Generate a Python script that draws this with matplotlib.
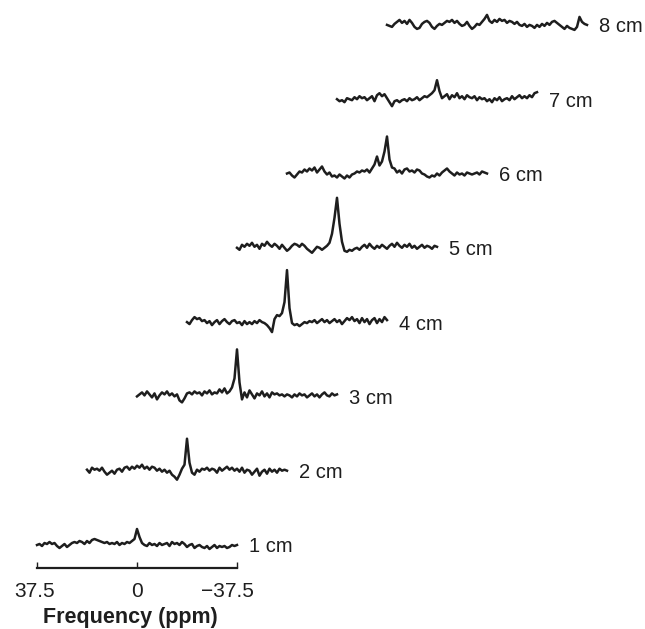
import matplotlib
matplotlib.use("Agg")
import matplotlib.pyplot as plt
import numpy as np
from matplotlib.transforms import ScaledTranslation

plt.rcParams['font.family'] = ['Liberation Sans', 'DejaVu Sans']

depth_labels = ['1 cm', '2 cm', '3 cm', '4 cm', '5 cm', '6 cm', '7 cm', '8 cm']
tick_ppm = [37.5, 0, -37.5]
tick_labels = ['37.5', '0', '\u221237.5']

# sampling grid of every spectrum (ppm, 37.5 -> -37.5)
ppm = np.linspace(37.5, -37.5, 81)

# signal above baseline (arbitrary units)
sig_1cm = [0, 1, -1, 2, 1, 3, 1, 2, -1, -3, -1, 1, -2, 0, 2, 3, 2, 4, 3, 1, 4, 2, 5, 6, 5,
           4, 3, 2, 3, 1, 2, 1, 3, 0, 2, 1, 3, 2, 4, 6, 16, 8, 2, 0, -1, 2, 0, 1, -1, 2,
           0, 1, 2, -1, 3, 1, 2, 0, 3, 1, -2, 0, 1, -3, -1, 0, -2, -3, -1, -4, -2, 0, -3,
           -1, -2, -1, -3, -2, 0, -1, 0]
sig_2cm = [1, -2, 3, 1, 2, 0, 3, -1, -4, -2, 0, -3, 1, 2, -1, 3, 4, 1, 4, 2, 5, 3, 6, 2,
           4, 1, 4, 3, 0, 2, -1, 1, -2, 0, -4, -6, -9, -4, 2, 6, 32, 8, -2, -4, 1, -1, 2,
           1, 3, 0, 2, 1, -2, 3, 0, 2, 4, 1, 3, 0, 2, -1, 3, -2, 1, 0, -4, -1, 2, -5, -1,
           1, -3, 2, -1, 1, -2, 2, 0, 1, 0]
sig_3cm = [0, 2, 4, 1, 5, 2, -1, 3, -3, 1, 4, 2, 5, 1, 3, 0, 2, -4, -6, -2, 3, 4, 2, 5,
           3, 4, 1, 5, 3, 6, 2, 4, 3, 7, 4, 8, 3, 5, 9, 18, 47, 14, -3, 4, -1, 6, 2, -2,
           3, 1, 5, 0, 3, -1, 4, 2, 3, 1, 2, 0, 2, 1, -1, 2, 0, 3, 1, 2, -1, 1, 3, 0, 2,
           -1, 2, 4, 1, 0, 3, 1, 2]
sig_4cm = [0, -2, 2, 5, 3, 4, 1, 2, -1, 1, -3, 0, 2, -2, 1, 3, 0, -2, 1, 2, -1, 0, -3,
           1, -2, 0, -2, 1, -1, 2, 0, -1, -3, -6, -10, 3, 7, 6, 9, 20, 52, 14, -1, -3,
           -2, -4, -2, 0, -1, 1, 0, 2, -1, 1, 3, 0, 2, -1, 1, 3, 0, 2, -2, 1, 4, 2, 5, 1,
           3, -1, 4, 0, 3, -2, 2, 4, -1, 3, 0, 5, 2]
sig_5cm = [0, -2, 3, 1, 4, 2, 5, 1, 3, -1, 4, 2, 6, 3, 1, 4, 2, -1, 3, 0, -3, -1, 2, 4,
           3, 1, 4, 2, -1, -3, -5, -2, 1, 0, -2, 0, 2, 5, 14, 30, 50, 24, 6, -3, -4, -2,
           -3, -1, 0, -2, 1, 3, 0, 4, 1, -1, 2, 0, 3, 1, -1, 2, 4, 1, 5, 2, 0, 3, 1, 4,
           0, 2, -1, 1, 3, 0, 2, 1, -1, 2, 1]
sig_6cm = [0, 1, -2, -4, -1, 2, 1, 4, 2, 5, 3, 6, 1, 4, 7, 2, -1, 1, -3, -2, -4, -1, -3,
           -5, -2, -4, -1, 0, 2, 1, 3, 2, 4, 1, 5, 9, 17, 8, 12, 22, 37, 14, 6, 5, 1, 3,
           0, 4, 5, 2, 3, 1, 4, 3, 0, -1, -3, -4, -2, -3, 0, -2, 1, 3, 5, 2, 0, -2, 1,
           -1, 0, -2, 1, 0, -1, 0, 1, -1, 2, 1, 0]
sig_7cm = [0, -2, -1, -3, 1, 0, -1, 2, 0, 3, 1, 2, -1, 1, 3, -2, 4, 6, 3, 5, 1, -3, -7,
           -2, -1, -3, -1, 0, -2, 1, -1, 0, 2, -1, 1, 3, 2, 4, 6, 9, 19, 8, 1, 3, 5, 0,
           4, 2, 6, 1, 3, 0, 4, 2, 1, 3, -1, 2, 0, 1, -2, 0, -3, 1, -1, 2, -2, 0, 1, -1,
           3, 0, 2, 4, 1, 3, 1, 4, 2, 6, 7]
sig_8cm = [0, -1, -2, 1, 3, 5, 2, 4, 1, 5, 2, -2, -4, -3, 1, 3, 4, 2, -2, -4, -1, 1, 0,
           2, 4, 3, 5, 2, 4, 1, -1, 0, 3, -1, -4, -2, 1, 0, 3, 6, 10, 4, 2, 5, 3, 6, 4,
           5, 2, 4, 3, 1, 3, 0, -1, 1, -2, 0, -1, -3, 0, -2, 1, -1, 2, 0, 3, 4, 2, 0, -2,
           -4, -1, -3, -4, -5, -2, 8, 3, 1, 0]

spectra = [sig_1cm, sig_2cm, sig_3cm, sig_4cm, sig_5cm, sig_6cm, sig_7cm, sig_8cm]

shift_ppm = 18.75   # horizontal stagger between depths
step = 74.3         # vertical stagger between depths
base0 = 84
ink = '#1e1e1e'

fig = plt.figure(figsize=(6.45, 6.29), dpi=100)
ax = fig.add_axes([0, 0, 1, 1])
ax.set_xlim(51.375, -190.5)
ax.set_ylim(0, 629)

for k, (sig, lab) in enumerate(zip(spectra, depth_labels)):
    x = ppm - k * shift_ppm
    y = base0 + k * step + np.array(sig)
    ax.plot(x, y, color=ink, lw=1.8, solid_joinstyle='round')
    ax.text(-42 - k * shift_ppm, base0 + k * step - 2, lab, fontsize=14.5,
            ha='left', va='center', color=ink)

for s in ['top', 'left', 'right']:
    ax.spines[s].set_visible(False)
ax.spines['bottom'].set_position(('data', 61))
ax.spines['bottom'].set_bounds(-37.5, 37.5)
ax.spines['bottom'].set_linewidth(1.6)
ax.spines['bottom'].set_color(ink)
ax.set_xticks(tick_ppm, tick_labels)
ax.tick_params(axis='x', direction='in', length=4, width=1, labelsize=15,
               pad=10, colors=ink)
ax.set_yticks([])

# nudge the outer tick labels the way they sit in the original
for lbl, dx in zip(ax.get_xticklabels(), [-2, 0, -10]):
    lbl.set_transform(lbl.get_transform() + ScaledTranslation(dx / 100, 0, fig.dpi_scale_trans))

ax.text(2.6, 11, 'Frequency (ppm)', fontsize=15.5, fontweight='bold',
        ha='center', va='center', color=ink)

fig.savefig('out.png', dpi=100)
